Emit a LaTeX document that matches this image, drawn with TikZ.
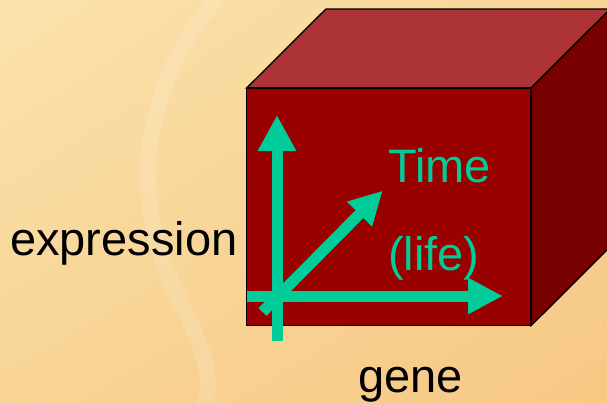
\documentclass[tikz,border=0pt]{standalone}
\usepackage{fontspec}
\setmainfont{Liberation Sans}
\usetikzlibrary{arrows.meta,shadings}

\definecolor{paperlight}{RGB}{250,226,172}
\definecolor{paperwarm}{RGB}{248,212,150}
\definecolor{paperdeep}{RGB}{247,200,132}
\definecolor{cubefront}{RGB}{153,0,0}
\definecolor{cubetop}{RGB}{172,52,52}
\definecolor{cubeside}{RGB}{119,0,0}
\definecolor{axisgreen}{RGB}{0,204,153}

\tikzset{
  face/.style={draw=black, line width=1.4pt, line join=miter},
  axisline/.style={draw=axisgreen, line width=11pt},
  label/.style={font=\fontsize{47pt}{47pt}\selectfont, inner sep=0pt, anchor=base west},
}

\begin{document}
\begin{tikzpicture}[x=1pt, y=-1pt]
  \useasboundingbox (0,0) rectangle (607,402);
  \clip (0,0) rectangle (607,402);

  % parchment background
  \shade[upper left=paperlight, upper right=paperwarm,
         lower left=paperwarm, lower right=paperdeep]
    (0,0) rectangle (607,402);
  % faint helix strand in the paper
  \draw[white, opacity=0.14, line width=16pt, line cap=round]
    (215,0) .. controls (140,90) and (130,200) .. (175,290)
            .. controls (200,340) and (215,380) .. (205,402);

  % cube corners
  \coordinate (fa) at (246.7,88);
  \coordinate (fb) at (531,88);
  \coordinate (fc) at (531,325.7);
  \coordinate (fd) at (246.7,325.7);
  \coordinate (ba) at (326,9);
  \coordinate (bb) at (610.3,9);
  \coordinate (bc) at (610.3,246.7);

  \fill[cubetop, face] (fa) -- (ba) -- (bb) -- (fb) -- cycle;
  \fill[cubeside, face] (fb) -- (bb) -- (bc) -- (fc) -- cycle;
  \fill[cubefront, face] (fa) -- (fb) -- (fc) -- (fd) -- cycle;

  % axes
  \coordinate (vbot) at (277,340.5);
  \coordinate (vtop) at (277,115);
  \coordinate (hleft) at (246.7,296);
  \coordinate (hright) at (503,296);
  \coordinate (dtail) at (262.5,312);
  \coordinate (dtip) at (382.7,190.7);

  \draw[axisline, -{Triangle[length=33pt, width=33pt]}] (dtail) -- (dtip);
  \draw[axisline, -{Triangle[length=35pt, width=34pt]}] (hleft) -- (hright);
  \draw[axisline, -{Triangle[length=36pt, width=36pt]}] (vbot) -- (vtop);

  % labels
  \node[label, text=axisgreen] (time) at (388,182) {Time};
  \node[label, text=axisgreen] (life) at (388,270) {(life)};
  \node[label] (expr) at (10,255) {expression};
  \node[label] (gene) at (358,392) {gene};
\end{tikzpicture}
\end{document}
